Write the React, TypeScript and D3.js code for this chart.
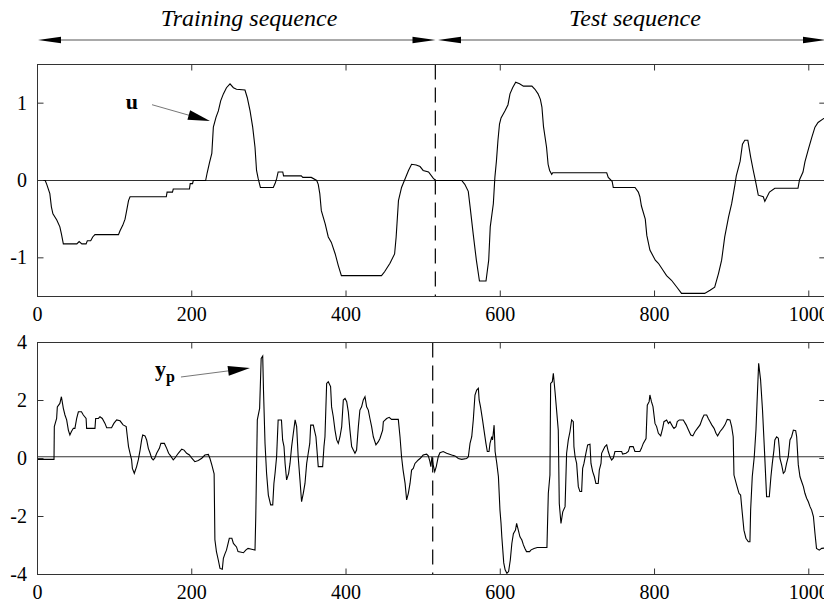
import React from "react";
import * as d3 from "d3";

const xTicks = [0, 200, 400, 600, 800, 1000];
const uTicks = [-1, 0, 1];
const ypTicks = [-4, -2, 0, 2, 4];
const splitTop = 515.8;
const splitBot = 512.4;

const uX = [0,10,12,16,18,20,25,29,31,33.5,51,54,57.5,63,64.6,69,71.6,74.5,105,107,110.5,113.5,115.6,118,120,167,168,175,176,197,198,201,202,218,220,223,226,228,231.5,234.5,237.5,241,245,249.6,254,258,269,272,275.6,279,282,284,286,289,305.7,308,310,312,318,319,342,344,355,362,364,366,368,373,377,381,386,390,394,446,450,457,463,465,468,472,476.5,481,485,491,496,500,507,513,516,550,554,558.5,561,565,569,573,581.5,585,587,591,593,595,597,599,601,606,610,612.6,616,620,625,630,641,645,649,652,654,656,660,662,664,666.7,668,738,740,745,746.5,774.7,779,781,783,788,790,794,801,805,811,815.6,822,829,835,865,872,878,883,887,891,896,900,904,906,911,914,917,921,924.7,928,931,934.5,941,943,945,949,956,986,988,992.5,995,999.6,1004,1008,1012,1019,1024];
const uY = [0,0,-0.05,-0.17,-0.34,-0.43,-0.51,-0.6,-0.69,-0.82,-0.82,-0.79,-0.82,-0.82,-0.78,-0.78,-0.73,-0.7,-0.7,-0.65,-0.58,-0.5,-0.39,-0.26,-0.21,-0.21,-0.15,-0.15,-0.11,-0.11,-0.04,-0.04,0,0,0.1,0.23,0.35,0.69,0.82,0.9,1.03,1.12,1.2,1.25,1.2,1.18,1.17,1.07,0.9,0.69,0.43,0.13,0.03,-0.09,-0.09,-0.04,0.02,0.11,0.11,0.06,0.06,0.04,0.04,0,-0.05,-0.17,-0.39,-0.56,-0.73,-0.8,-0.95,-1.1,-1.23,-1.23,-1.18,-1.07,-0.95,-0.73,-0.26,-0.09,0.02,0.13,0.21,0.2,0.18,0.13,0.11,0.03,0,0,-0.05,-0.14,-0.35,-0.7,-1.03,-1.3,-1.3,-1.03,-0.6,-0.3,0.04,0.25,0.52,0.73,0.81,0.9,0.98,1.12,1.2,1.27,1.25,1.22,1.22,1.18,1.12,1.05,0.95,0.7,0.43,0.21,0.13,0.08,0.1,0.1,0.04,-0.01,-0.09,-0.09,-0.15,-0.21,-0.33,-0.5,-0.71,-0.9,-1.03,-1.07,-1.16,-1.23,-1.29,-1.38,-1.46,-1.46,-1.42,-1.38,-1.2,-1.03,-0.73,-0.47,-0.3,-0.07,0.06,0.25,0.47,0.52,0.52,0.3,0.13,-0.01,-0.19,-0.21,-0.27,-0.23,-0.15,-0.1,-0.1,0.01,0.11,0.24,0.41,0.56,0.69,0.75,0.8,0.82];

const ypX = [0,21.4,21.8,24.8,25.7,29,31,33.5,35.6,37.8,40,42,44,46.5,48.5,50.8,53,57,59.4,63,63.7,74.5,75.4,79,81,84,87.5,89.7,96,99,102.6,107,111,115,116.5,118,120,122,123,125.5,128.5,130.7,133,135,136.4,139.4,141.5,143.7,146,148,150,152,154.5,158,160,164.5,167.5,170,172.6,176,178,182.5,187,190,193.4,197,200,204,208.5,213,217,221.5,223.6,226,229,230,232,234.4,236.6,239.6,241,243,245,248.7,252,254,258,260,267,270,273,277.6,282,283,285,288,290,292,293,295,297,299.3,302.3,305,306.5,308,310,312,316.3,317.8,319.6,321,323,325.6,327.4,329.5,331.7,334,336,338,340.3,342.4,344.6,346.8,349,351,353,354.2,357.6,359,361,362,364,369.7,371.4,372.7,374.9,377,380,381.3,383.5,385.7,387.9,390,392.2,394.4,396.5,398.7,400.9,403,405.1,407.3,409.5,411.6,413.7,416,418,420.2,422.4,424.6,426.7,428.9,431,433.2,435.4,438.8,441.9,444,447.5,448.4,452.7,456,459,467.8,470,472,474,476.6,478.6,480.8,483,485,487.2,489.4,491.6,493.7,496,500,504.5,506.7,508.8,510,511.4,513,515,517,519.6,521.8,526,530.5,537,541.3,545.6,550,556.4,558.6,560.8,563,565,567.2,569.4,571.6,572.6,574.4,577,578.9,581.4,583.2,585.4,586.7,589,590,592,593.3,595.5,597.6,599.6,601,602,604.5,606.3,608.6,610.8,613,615,617,619.7,621.2,623.4,625.5,628,630,632,634,638,640,643.8,648,660.5,662.3,664.4,665.3,667.5,668.8,671,673,675.2,676.5,678.7,681,684,686,688.2,690.4,692.5,694.7,695.5,697,699,701.2,703.3,705.5,706.8,708.5,711,713.3,716.3,717.6,719.8,722,724,727,728.4,730.6,731.4,733.5,735.7,738,740,742.2,744.4,746.5,748.7,757.4,758.6,763,766,768,772.3,774.6,781,783,785.4,789,790.6,793,794,796,798,800.6,802.7,805,808,810.5,812.2,815.7,818,820,823.5,825.2,827.8,829.5,832.2,837.3,841,844,847,849.7,852.6,855.6,859,862,864.2,867.6,869.7,872,874.2,877.2,879.7,881.8,885,888.3,891.3,894.3,897.8,900,902,903,906.4,909.5,911.6,913.8,915.9,918.5,921.6,923.7,924.6,926.7,929.3,931.5,933.2,935,937.5,940,942.2,945.3,948.8,950.9,952.7,954.8,956,958.3,960.5,961.8,962.6,964.8,967,969,971.2,973.4,975.6,977.7,980,983,984.3,986.4,988.6,990.8,993,995,997.2,999.4,1001.6,1003.7,1006,1008,1010,1013.6,1016.7,1024];
const ypY = [-0.03,-0.03,1.1,1.38,1.78,1.9,2.13,1.73,1.5,1.33,0.98,0.81,0.93,1.04,1.04,1.38,1.61,1.61,1.5,1.38,1.04,1.04,1.38,1.38,1.44,1.38,1.21,1.06,1.06,1.21,1.33,1.3,1.16,1.1,0.75,0.41,0.18,-0.05,-0.34,-0.51,-0.28,-0.05,0.29,0.64,0.81,0.78,0.64,0.35,0.18,0.01,-0.05,0.01,0.18,0.35,0.52,0.52,0.35,0.18,0.09,-0.05,0.01,0.18,0.32,0.29,0.18,0.12,0.01,-0.11,-0.07,0.01,0.12,0.14,0,-0.22,-0.53,-2.8,-3.21,-3.5,-3.79,-3.82,-3.44,-3.29,-3.16,-2.75,-2.75,-2.93,-3.05,-3.21,-3.25,-3.16,-3.1,-3.13,-3.16,-2.0,1.33,1.73,3.45,3.53,2.36,0.52,-0.51,-1.26,-1.6,-1.6,-0.86,-0.51,0.06,1.33,1.33,0.64,0.41,-0.17,-0.74,-0.51,-0.17,0.41,0.87,1.33,1.1,0.06,-0.74,-1.49,-1.2,-0.86,-0.17,0.18,0.52,1.15,1.15,0.98,0.75,0.41,-0.28,-0.28,0.41,0.75,2.59,2.65,2.48,1.78,1.44,0.98,0.64,0.52,0.75,1.1,2.02,2.07,1.96,1.61,0.98,0.41,0.29,0.18,0.29,1.1,1.67,1.78,2.02,2.13,1.78,1.67,1.38,1.1,0.75,0.47,0.58,0.69,0.98,1.27,1.38,1.42,1.35,1.35,0.75,0.06,-0.4,-0.86,-1.43,-1.2,-0.86,-0.4,-0.34,-0.17,-0.11,-0.05,0,0.12,0.15,0.09,-0.11,-0.28,0.06,-0.22,-0.45,-0.28,0.06,0.2,0.24,0.18,0.12,0.09,0,-0.03,0,0.06,0.52,0.75,1.33,2.19,2.36,2.42,2.02,1.78,1.33,0.98,0.52,0.24,0.24,0.52,0.75,0.64,1.15,0.24,-0.17,-0.63,-1.78,-2.24,-2.7,-3.6,-3.84,-3.96,-3.9,-3.5,-2.93,-2.59,-2.47,-2.24,-2.47,-2.7,-2.81,-2.98,-3.1,-3.21,-3.21,-3.15,-3.1,-3.07,-3.07,-1.2,-0.57,2.59,2.65,2.94,2.3,1.67,0.98,-1.55,-2.24,-1.84,-1.66,0.18,0.64,0.93,1.33,1.27,0.41,0.06,-0.17,-0.97,-1.14,-1.14,-0.34,-0.17,0.18,0.47,0.49,-0.17,-0.45,-0.63,-0.86,-0.86,-0.4,-0.17,0.18,0.29,0.41,0.47,0.24,0.06,-0.05,0.01,0.24,0.24,0.15,0.18,0.24,0.41,0.41,0.24,0.24,0.35,0.52,0.69,1.84,1.96,2.19,1.96,1.79,1.21,1.1,0.87,0.78,1.04,1.27,1.33,1.21,1.27,1.1,1.04,1.1,1.27,1.33,1.33,1.16,0.98,0.81,0.78,0.93,1.04,1.16,1.38,1.5,1.5,1.38,1.27,1.16,1.04,0.87,0.78,0.93,1.04,1.16,1.35,1.33,1.1,0.75,-0.57,-0.91,-1.2,-1.26,-1.89,-2.47,-2.75,-2.87,-2.87,-1.78,-0.63,0.06,0.98,2.13,3.28,2.71,1.67,0.47,-1.32,-1.32,-0.63,-0.17,0.29,0.64,0.75,0.7,0.35,0,-0.22,-0.51,-0.45,-0.17,0.06,0.64,0.75,0.98,0.96,0.75,-0.22,-0.63,-0.8,-0.97,-1.2,-1.37,-1.49,-1.66,-1.78,-2.0,-2.58,-3.1,-3.16,-3.1,-3.08];

const W = 824;
const H = 604;
const FONT = '"Liberation Serif", "Times New Roman", Tinos, "DejaVu Serif", serif';

const xScale = d3.scaleLinear().domain([0, 1024]).range([37.5, 827.3]);
const yTop = d3.scaleLinear().domain([-1.5, 1.5]).range([296.5, 64.5]);
const yBot = d3.scaleLinear().domain([-4, 4]).range([574.5, 342.5]);

function head(tipX: number, tipY: number, fromX: number, fromY: number, len: number, hw: number) {
  const dx = tipX - fromX;
  const dy = tipY - fromY;
  const d = Math.sqrt(dx * dx + dy * dy);
  const ux = dx / d, uy = dy / d;
  const bx = tipX - ux * len, by = tipY - uy * len;
  const px = -uy * hw, py = ux * hw;
  return `M${tipX},${tipY}L${bx + px},${by + py}L${bx - px},${by - py}Z`;
}

const txt = (size: number, extra: any = {}) => ({ fontFamily: FONT, fontSize: size + "px", ...extra });

function Panel({ xs, ys, yScale, yTicks, split, zeroAt }: any) {
  const [y0, y1] = yScale.range();
  const x0 = xScale.range()[0];
  const x1 = xScale.range()[1];
  const line = d3.line<number>().x((_, i) => xScale(xs[i])).y((v) => yScale(v));
  const tl = 6;
  return (
    <g>
      <line x1={x0} x2={x1} y1={yScale(zeroAt)} y2={yScale(zeroAt)} stroke="#333" strokeWidth={1} />
      <line x1={xScale(split)} x2={xScale(split)} y1={y1} y2={y0} stroke="#000" strokeWidth={1.2} strokeDasharray="15,8" />
      <path d={line(ys) || ""} fill="none" stroke="#000" strokeWidth={1.1} />
      <rect x={x0} y={y1} width={x1 - x0} height={y0 - y1} fill="none" stroke="#333" strokeWidth={1} />
      {xTicks.map((t) => (
        <g key={"x" + t}>
          <line x1={xScale(t)} x2={xScale(t)} y1={y0} y2={y0 - tl} stroke="#333" />
          <line x1={xScale(t)} x2={xScale(t)} y1={y1} y2={y1 + tl} stroke="#333" />
          <text x={xScale(t)} y={y0 + 24} textAnchor="middle" style={txt(20)}>{t}</text>
        </g>
      ))}
      {yTicks.map((t: number) => (
        <g key={"y" + t}>
          <line x1={x0} x2={x0 + tl} y1={yScale(t)} y2={yScale(t)} stroke="#333" />
          <line x1={x1} x2={x1 - tl - 2} y1={yScale(t)} y2={yScale(t)} stroke="#333" />
          <text x={27} y={yScale(t) + 6.5} textAnchor="end" style={txt(20)}>{t}</text>
        </g>
      ))}
    </g>
  );
}

export default function App() {
  const arrowY = 40;
  const midL = 435.5;
  const midR = 438;
  // annotation anchors in data coordinates
  const uTip = [223.6, 0.77], uStart = [148.5, 0.98];
  const yTip = [275.5, 3.12], yStart = [186, 2.81];
  return (
    <svg width={W} height={H} style={{ position: "absolute", left: 0, top: 0 }}>
      <rect width={W} height={H} fill="#fff" />
      <text x={249} y={26} textAnchor="middle" style={txt(24, { fontStyle: "italic" })}>Training sequence</text>
      <text x={635} y={26} textAnchor="middle" style={txt(24, { fontStyle: "italic" })}>Test sequence</text>
      <line x1={45} x2={midL - 10} y1={arrowY} y2={arrowY} stroke="#555" strokeWidth={1} />
      <path d={head(38, arrowY, 100, arrowY, 23, 3.2)} fill="#000" />
      <path d={head(midL, arrowY, 300, arrowY, 23, 3.2)} fill="#000" />
      <line x1={midR + 10} x2={818} y1={arrowY} y2={arrowY} stroke="#555" strokeWidth={1} />
      <path d={head(midR, arrowY, 600, arrowY, 23, 3.2)} fill="#000" />
      <path d={head(826, arrowY, 700, arrowY, 23, 3.2)} fill="#000" />

      <Panel xs={uX} ys={uY} yScale={yTop} yTicks={uTicks} split={splitTop} zeroAt={0} />
      <Panel xs={ypX} ys={ypY} yScale={yBot} yTicks={ypTicks} split={splitBot} zeroAt={0.06} />

      <text x={xScale(122.5)} y={yTop(0.93)} textAnchor="middle" style={txt(22, { fontWeight: "bold" })}>u</text>
      <line x1={xScale(uStart[0])} y1={yTop(uStart[1])} x2={xScale(uTip[0]) - 15} y2={yTop(uTip[1]) - 4} stroke="#777" strokeWidth={1} />
      <path d={head(xScale(uTip[0]), yTop(uTip[1]), xScale(uStart[0]), yTop(uStart[1]), 22, 5)} fill="#000" />

      <text x={xScale(152.3)} y={yBot(2.84)} style={txt(22, { fontWeight: "bold" })}>
        y<tspan style={{ fontSize: "16px" }} dy={6}>p</tspan>
      </text>
      <line x1={xScale(yStart[0])} y1={yBot(yStart[1])} x2={xScale(yTip[0]) - 15} y2={yBot(yTip[1]) + 2} stroke="#777" strokeWidth={1} />
      <path d={head(xScale(yTip[0]), yBot(yTip[1]), xScale(yStart[0]), yBot(yStart[1]), 22, 5)} fill="#000" />
    </svg>
  );
}
